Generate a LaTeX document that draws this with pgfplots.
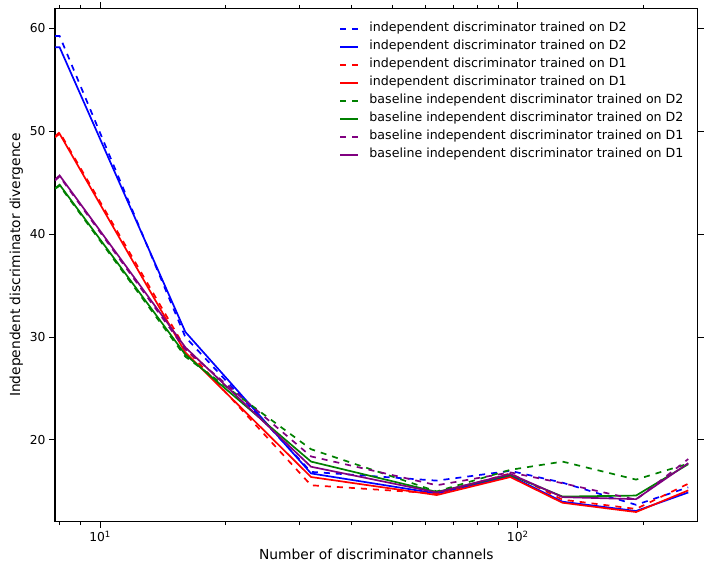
\documentclass[border=0pt]{standalone}
\usepackage{pgfplots}
\pgfplotsset{compat=1.18}
\usepackage{fontspec}
\setmainfont{DejaVu Sans}
\definecolor{mblue}{rgb}{0,0,1}
\definecolor{mred}{rgb}{1,0,0}
\definecolor{mgreen}{rgb}{0,0.5,0}
\definecolor{mpurple}{rgb}{0.5,0,0.5}
\pgfplotsset{
  dsh/.style={line width=1.7pt, dash pattern=on 6pt off 6pt},
  sld/.style={line width=1.7pt, solid},
}
\begin{document}
\begin{tikzpicture}
\path[use as bounding box] (-55pt,-53.3pt) rectangle (651pt,521.7pt);
\begin{axis}[
  at={(0,0)}, anchor=south west,
  scale only axis, width=642.7pt, height=513.4pt,
  xmode=log, xmin=7.8, xmax=269.7, ymin=12.06, ymax=61.94,
  xtick={10,100}, xticklabels={10\textsuperscript{1},10\textsuperscript{2}},
  minor xtick={8,9,20,30,40,50,60,70,80,90,200},
  ytick={20,30,40,50,60}, yticklabels={20,30,40,50,60},
  tick align=outside, tick pos=both,
  major tick length=6pt, minor tick length=3.5pt,
  every tick/.style={black, line width=1pt},
  axis line style={line width=1.1pt},
  tick label style={font=\fontsize{12.3}{14}\selectfont},
  label style={font=\fontsize{13.8}{16}\selectfont},
  xlabel={Number of discriminator channels},
  ylabel={Independent discriminator divergence},
  clip=true,
  legend cell align=left,
  legend image code/.code={\draw[#1] (0pt,0pt) -- (18pt,0pt); \path (28.5pt,0pt);},
  legend style={draw=none, fill=none, at={(rel axis cs:0.442,0.972)}, anchor=north west,
    inner sep=0pt, font=\fontsize{12.6}{15}\selectfont, row sep=6.0pt,
    nodes={inner sep=0pt, text height=9pt, text depth=3pt}},
]
\addplot[mblue, dsh] coordinates {(7.8,59.25) (8,59.25) (16,30.0) (32,16.9) (64,16.05) (96,17.0) (128,15.85) (192,13.7) (256,15.4)};
\addlegendentry{independent discriminator trained on D2}
\addplot[mblue, sld] coordinates {(7.8,58.15) (8,58.15) (16,30.5) (32,16.75) (64,14.8) (96,16.5) (128,14.0) (192,13.1) (256,14.9)};
\addlegendentry{independent discriminator trained on D2}
\addplot[mred, dsh] coordinates {(7.8,49.5) (8,49.9) (16,28.9) (32,15.6) (64,14.8) (96,16.75) (128,14.2) (192,13.3) (256,15.75)};
\addlegendentry{independent discriminator trained on D1}
\addplot[mred, sld] coordinates {(7.8,49.4) (8,49.75) (16,28.5) (32,16.4) (64,14.65) (96,16.4) (128,13.9) (192,13.0) (256,15.1)};
\addlegendentry{independent discriminator trained on D1}
\addplot[mgreen, dsh] coordinates {(7.8,44.4) (8,44.7) (16,28.1) (32,19.1) (64,15.0) (96,17.1) (128,17.9) (192,16.15) (256,17.7)};
\addlegendentry{baseline independent discriminator trained on D2}
\addplot[mgreen, sld] coordinates {(7.8,44.45) (8,44.8) (16,28.3) (32,17.9) (64,14.95) (96,16.6) (128,14.5) (192,14.6) (256,17.65)};
\addlegendentry{baseline independent discriminator trained on D2}
\addplot[mpurple, dsh] coordinates {(7.8,45.2) (8,45.6) (16,28.8) (32,18.4) (64,15.6) (96,16.85) (128,15.8) (192,14.2) (256,18.15)};
\addlegendentry{baseline independent discriminator trained on D1}
\addplot[mpurple, sld] coordinates {(7.8,45.3) (8,45.7) (16,29.0) (32,17.4) (64,14.9) (96,16.7) (128,14.45) (192,14.25) (256,17.75)};
\addlegendentry{baseline independent discriminator trained on D1}
\end{axis}
\end{tikzpicture}
\end{document}
